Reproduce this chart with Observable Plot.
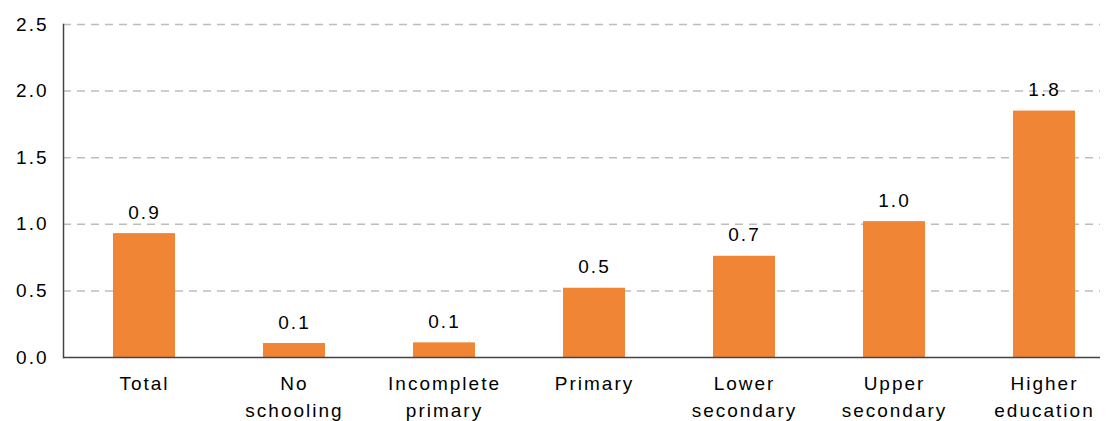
<!DOCTYPE html>
<html>
<head>
<meta charset="utf-8">
<script src="https://cdn.jsdelivr.net/npm/d3@7"></script>
<script src="https://cdn.jsdelivr.net/npm/@observablehq/plot@0.6"></script>
<style>
  html, body { margin: 0; padding: 0; background: #fff; }
  #chart svg { font-family: "Liberation Sans", Arial, sans-serif; letter-spacing: 2px; color: #000; }
</style>
</head>
<body>
<div id="chart"></div>
<script>
const categories = ["Total", "No\nschooling", "Incomplete\nprimary", "Primary", "Lower\nsecondary", "Upper\nsecondary", "Higher\neducation"];
const values = [0.93, 0.105, 0.11, 0.52, 0.76, 1.02, 1.85];
const valueLabels = ["0.9", "0.1", "0.1", "0.5", "0.7", "1.0", "1.8"];
const yTicks = [0, 0.5, 1.0, 1.5, 2.0, 2.5];

const data = categories.map((c, i) => ({category: c, value: values[i], label: valueLabels[i]}));

const chart = Plot.plot({
  width: 1111,
  height: 421,
  marginLeft: 63,
  marginRight: 11,
  marginTop: 24,
  marginBottom: 64,
  style: {fontSize: "19px", fontFamily: "Liberation Sans, Arial, sans-serif", color: "#000", background: "#fff"},
  x: {domain: categories, range: [68, 1119], paddingInner: 0.59, paddingOuter: 0.295, label: null},
  y: {domain: [0, 2.5], label: null},
  marks: [
    Plot.ruleY(yTicks.filter(d => d > 0), {stroke: "#bdbdbd", strokeWidth: 1.5, strokeDasharray: "8,6"}),
    Plot.barY(data, {x: "category", y: "value", fill: "#F08536"}),
    Plot.text(data, {x: "category", y: "value", text: "label", dy: -21, fontSize: 19, fill: "#000"}),
    Plot.ruleY([0], {stroke: "#444", strokeWidth: 1.5}),
    Plot.frame({anchor: "left", stroke: "#444", strokeWidth: 1.5}),
    Plot.axisY({ticks: yTicks, tickFormat: d3.format(".1f"), tickSize: 0, tickPadding: 15, fontSize: 19, fill: "#000"}),
    Plot.axisX({tickSize: 0, tickPadding: 13, fontSize: 19, lineHeight: 1.42, fill: "#000"})
  ]
});
document.getElementById("chart").appendChild(chart);
</script>
</body>
</html>
